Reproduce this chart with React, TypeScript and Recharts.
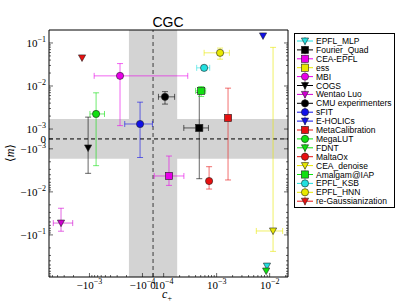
import React from "react";
import {
  ScatterChart,
  Scatter,
  XAxis,
  YAxis,
  ErrorBar,
  ReferenceArea,
  ReferenceLine,
} from "recharts";

// one point per method: c+ (x) and <m> (y), with 1-sigma errors
const methods = [
  "EPFL_MLP", "Fourier_Quad", "CEA-EPFL", "ess", "MBI", "COGS", "Wentao Luo",
  "CMU experimenters", "sFIT", "E-HOLICs", "MetaCalibration", "MegaLUT", "FDNT",
  "MaltaOx", "CEA_denoise", "Amalgam@IAP", "EPFL_KSB", "EPFL_HNN", "re-Gaussianization",
];
const colors = [
  "#22e0e0", "#000000", "#e800e8", "#e8e800", "#e800e8", "#000000", "#d000d0",
  "#000000", "#1010e8", "#1010e8", "#e81010", "#10e010", "#10e010",
  "#e81010", "#e8e800", "#10e010", "#22e0e0", "#e8e800", "#e81010",
];
const markers = [
  "tri", "square", "square", "square", "circle", "tri", "tri",
  "circle", "circle", "tri", "square", "circle", "tri",
  "circle", "tri", "square", "circle", "circle", "tri",
];
const cPlus = [
  8.9e-3, 4.7e-4, 1.26e-4, null, -2.65e-4, -1.06e-3, -3.44e-3,
  1.06e-4, -1.11e-4, 7.5e-3, 1.64e-3, -7.5e-4, 8.6e-3,
  7.2e-4, 1.16e-2, 5.1e-4, 5.8e-4, 1.16e-3, -1.38e-3,
];
const cPlusErr = [
  0, 2.3e-4, 1.15e-4, null, 5.5e-4, 0, 1.37e-3,
  0.55e-4, 1.05e-4, 0, 1.5e-4, 2.3e-4, 0,
  0.5e-4, 6e-3, 1.1e-4, 1.6e-4, 5.8e-4, 0,
];
const mVal = [
  -0.53, 1.06e-3, -4.27e-3, null, 0.0172, -9.1e-4, -0.053,
  5.6e-3, 1.31e-3, 0.146, 1.81e-3, 2.24e-3, -0.69,
  -5.6e-3, -0.081, 7.7e-3, 0.0264, 0.059, 0.045,
];
const mErr = [
  0, 6e-3, 2.8e-3, null, 0.016, 2.8e-3, 0.029,
  1.8e-3, 2.9e-3, 0, 7.1e-3, 4.7e-3, 0,
  3e-3, 0.16, 2e-3, 3e-3, 0.017, 0,
];

const xMajor = [-1e-3, -1e-4, 0, 1e-4, 1e-3, 1e-2];
const xMajorLabels = [["−10", "−3"], ["−10", "−4"], ["0", ""], ["10", "−4"], ["10", "−3"], ["10", "−2"]];
const yMajor = [-1e-1, -1e-2, -1e-3, 0, 1e-3, 1e-2, 1e-1];
const yMajorLabels = [["−10", "−1"], ["−10", "−2"], ["−10", "−3"], ["0", ""], ["10", "−3"], ["10", "−2"], ["10", "−1"]];
const minorMult = [2, 3, 4, 5, 6, 7, 8, 9];

const xLimits = [-5.8e-3, 2.22e-2];
const yLimits = [-0.95, 0.2];
const cBand = 1.8e-4;
const mBand = 1.7e-3;

const X_THRESH = 1e-4;
const Y_THRESH = 1e-3;

function symlog(v: number, thresh: number, lin: number) {
  const a = Math.abs(v);
  if (a <= thresh) return (v / thresh) * lin;
  return Math.sign(v) * (lin + Math.log10(a / thresh));
}
const sx = (v: number) => symlog(v, X_THRESH, 0.2);
const sy = (v: number) => symlog(v, Y_THRESH, 0.23);

function minorTicks(thresh: number, lo: number, hi: number) {
  const out: number[] = [];
  for (let e = Math.round(Math.log10(thresh)); e < 0; e++) {
    for (const m of minorMult) {
      for (const s of [-1, 1]) {
        const v = s * m * Math.pow(10, e);
        if (v > lo && v < hi) out.push(v);
      }
    }
  }
  return out;
}

const xMajorT = xMajor.map(sx);
const yMajorT = yMajor.map(sy);
const xTicks = [...xMajorT, ...minorTicks(X_THRESH, xLimits[0], xLimits[1]).map(sx)];
const yTicks = [...yMajorT, ...minorTicks(Y_THRESH, yLimits[0], yLimits[1]).map(sy)];

const serif = "'Liberation Serif', 'DejaVu Serif', serif";
const sans = "'Liberation Sans', Arial, sans-serif";

const majorIndex = (list: number[], v: number) => list.findIndex((t) => Math.abs(t - v) < 1e-9);

const series = methods.map((name, i) => {
  const c = cPlus[i];
  const m = mVal[i];
  if (c === null || m === null) return { name, data: [] as any[], hasEx: false, hasEy: false };
  const ce = cPlusErr[i] as number;
  const me = mErr[i] as number;
  return {
    name,
    data: [
      {
        x: sx(c),
        y: sy(m),
        ex: [sx(c) - sx(c - ce), sx(c + ce) - sx(c)],
        ey: [sy(m) - sy(m - me), sy(m + me) - sy(m)],
      },
    ],
    hasEx: ce > 0,
    hasEy: me > 0,
  };
});

function MarkerGlyph({ cx, cy, kind, color }: { cx: number; cy: number; kind: string; color: string }) {
  const r = 3.6;
  if (kind === "circle")
    return <circle cx={cx} cy={cy} r={r} fill={color} stroke="#222" strokeWidth={0.6} />;
  if (kind === "square")
    return <rect x={cx - r} y={cy - r} width={2 * r} height={2 * r} fill={color} stroke="#222" strokeWidth={0.6} />;
  return (
    <polygon
      points={`${cx - r},${cy - 3} ${cx + r},${cy - 3} ${cx},${cy + 3.6}`}
      fill={color}
      stroke="#222"
      strokeWidth={0.6}
    />
  );
}

function SupLabel({ x, y, anchor, parts }: any) {
  return (
    <text x={x} y={y} textAnchor={anchor} fontFamily={serif} fontSize={11} fill="#000">
      {parts[0]}
      {parts[1] ? (
        <tspan dy={-5} fontSize={8}>
          {parts[1]}
        </tspan>
      ) : null}
    </text>
  );
}

const BottomTick = (props: any) => {
  const { x, y, payload } = props;
  const k = majorIndex(xMajorT, payload.value);
  const len = k >= 0 ? 4 : 2;
  return (
    <g>
      <line x1={x} x2={x} y1={y} y2={y - len} stroke="#000" strokeWidth={0.6} />
      {k >= 0 && <SupLabel x={x} y={y + 12} anchor="middle" parts={xMajorLabels[k]} />}
    </g>
  );
};

const TopTick = (props: any) => {
  const { x, y, payload } = props;
  const len = majorIndex(xMajorT, payload.value) >= 0 ? 4 : 2;
  return <line x1={x} x2={x} y1={y} y2={y + len} stroke="#000" strokeWidth={0.6} />;
};

const LeftTick = (props: any) => {
  const { x, y, payload } = props;
  const k = majorIndex(yMajorT, payload.value);
  const len = k >= 0 ? 4 : 2;
  return (
    <g>
      <line x1={x} x2={x + len} y1={y} y2={y} stroke="#000" strokeWidth={0.6} />
      {k >= 0 && <SupLabel x={x - 3} y={y + 4} anchor="end" parts={yMajorLabels[k]} />}
    </g>
  );
};

const RightTick = (props: any) => {
  const { x, y, payload } = props;
  const len = majorIndex(yMajorT, payload.value) >= 0 ? 4 : 2;
  return <line x1={x} x2={x - len} y1={y} y2={y} stroke="#000" strokeWidth={0.6} />;
};

const Legend = () => {
  const step = 8.9;
  return (
    <svg width={101} height={175} style={{ position: "absolute", left: 294, top: 33 }}>
      <rect x={0.5} y={0.5} width={100} height={174} fill="#fff" stroke="#000" strokeWidth={1} />
      {methods.map((name, i) => {
        const cy = 8 + i * step;
        return (
          <g key={name}>
            <line x1={3} x2={19} y1={cy} y2={cy} stroke={colors[i]} strokeWidth={1} />
            <line x1={11} x2={11} y1={cy - 4} y2={cy + 4} stroke={colors[i]} strokeWidth={1} />
            <MarkerGlyph cx={11} cy={cy} kind={markers[i]} color={colors[i]} />
            <text x={22} y={cy + 3} fontFamily={sans} fontSize={8.5} fill="#000">
              {name}
            </text>
          </g>
        );
      })}
    </svg>
  );
};

const App = () => {
  const xDomain = [sx(xLimits[0]), sx(xLimits[1])];
  const yDomain = [sy(yLimits[0]), sy(yLimits[1])];
  const axisLine = { stroke: "#000", strokeWidth: 1 };
  return (
    <div style={{ position: "absolute", left: 0, top: 0, width: 411, height: 308, background: "#fff" }}>
      <ScatterChart width={411} height={308} margin={{ top: 29, right: 122, bottom: 30, left: 48 }}>
        <XAxis
          type="number"
          dataKey="x"
          domain={xDomain}
          allowDataOverflow
          ticks={xTicks}
          interval={0}
          height={1}
          tickSize={0}
          tickMargin={0}
          tick={BottomTick}
          axisLine={axisLine}
        />
        <XAxis
          xAxisId="top"
          orientation="top"
          type="number"
          domain={xDomain}
          allowDataOverflow
          ticks={xTicks}
          interval={0}
          height={1}
          tickSize={0}
          tickMargin={0}
          tick={TopTick}
          axisLine={axisLine}
        />
        <YAxis
          type="number"
          dataKey="y"
          domain={yDomain}
          allowDataOverflow
          ticks={yTicks}
          interval={0}
          width={1}
          tickSize={0}
          tickMargin={0}
          tick={LeftTick}
          axisLine={axisLine}
        />
        <YAxis
          yAxisId="right"
          orientation="right"
          type="number"
          domain={yDomain}
          allowDataOverflow
          ticks={yTicks}
          interval={0}
          width={1}
          tickSize={0}
          tickMargin={0}
          tick={RightTick}
          axisLine={axisLine}
        />
        <ReferenceArea y1={sy(-mBand)} y2={sy(mBand)} fill="#d3d3d3" fillOpacity={1} stroke="none" />
        <ReferenceArea x1={sx(-cBand)} x2={sx(cBand)} fill="#d3d3d3" fillOpacity={1} stroke="none" />
        <ReferenceLine x={0} stroke="#555" strokeWidth={1.2} strokeDasharray="4 3" />
        <ReferenceLine y={0} stroke="#000" strokeWidth={1} strokeDasharray="4 3" />
        {series.map((s, i) => (
          <Scatter
            key={s.name}
            name={s.name}
            data={s.data}
            isAnimationActive={false}
            shape={(p: any) => <MarkerGlyph cx={p.cx} cy={p.cy} kind={markers[i]} color={colors[i]} />}
          >
            {s.hasEx && (
              <ErrorBar dataKey="ex" direction="x" width={3} stroke={colors[i]} strokeOpacity={0.6} strokeWidth={1} />
            )}
            {s.hasEy && (
              <ErrorBar dataKey="ey" direction="y" width={3} stroke={colors[i]} strokeOpacity={0.6} strokeWidth={1} />
            )}
          </Scatter>
        ))}
      </ScatterChart>
      <svg width={411} height={308} style={{ position: "absolute", left: 0, top: 0, pointerEvents: "none" }}>
        <text x={168} y={27} textAnchor="middle" fontFamily={sans} fontSize={14} fill="#000">
          CGC
        </text>
        <text x={167} y={298} textAnchor="middle" fontFamily={serif} fontSize={12} fontStyle="italic" fill="#000">
          c
          <tspan dy={3} fontSize={8} fontStyle="normal">
            +
          </tspan>
        </text>
        <text
          x={10}
          y={153}
          textAnchor="middle"
          dominantBaseline="central"
          transform="rotate(-90 10 153)"
          fontFamily={serif}
          fontSize={12}
          fill="#000"
        >
          ⟨<tspan fontStyle="italic">m</tspan>⟩
        </text>
      </svg>
      <Legend />
    </div>
  );
};

export default App;
